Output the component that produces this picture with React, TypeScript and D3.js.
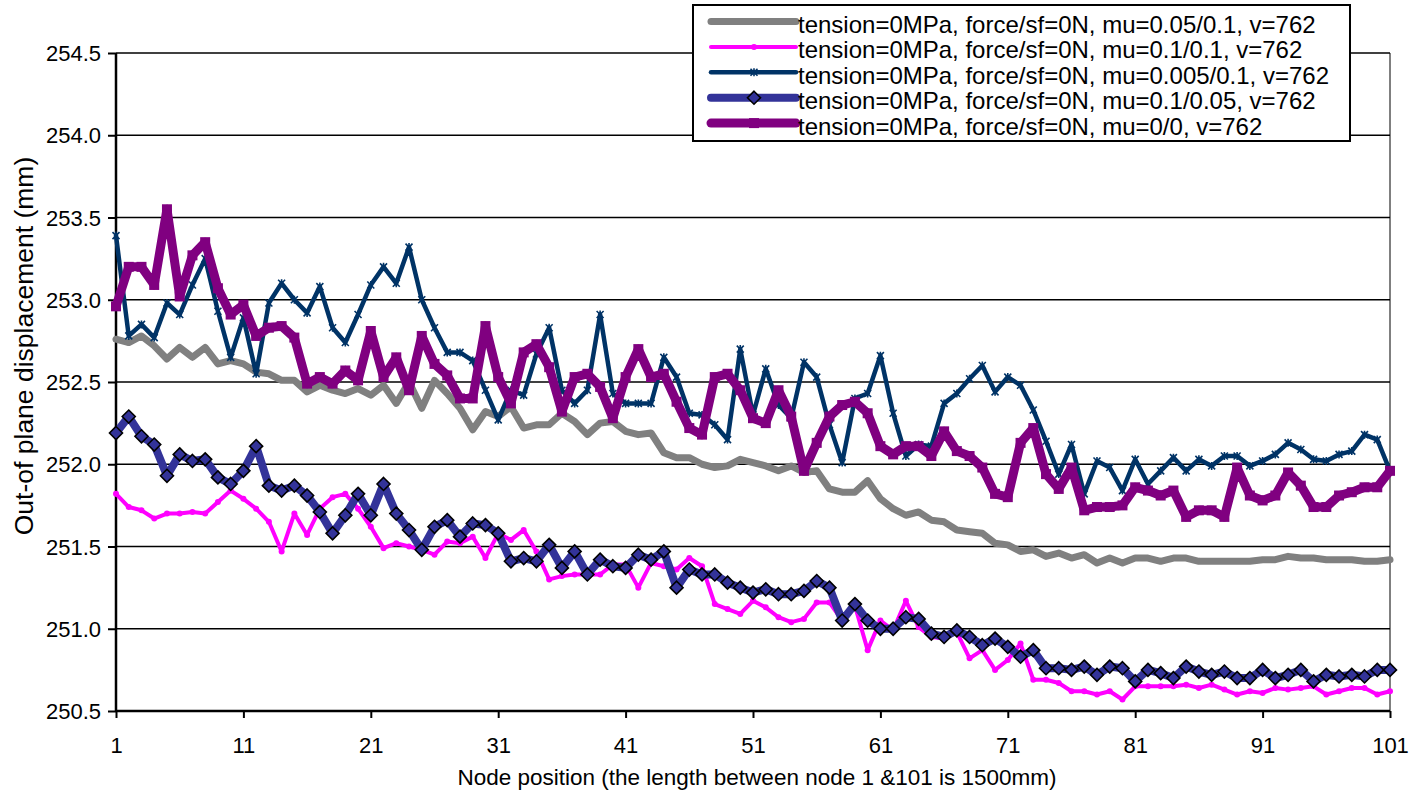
import React, { useRef, useEffect } from "react";
import * as d3 from "d3";

// node numbers along the strip, 1..101
const nodes: number[] = d3.range(1, 102);

const grayVals = [
  252.76, 252.74, 252.78, 252.72, 252.64, 252.71, 252.65, 252.71, 252.61, 252.63,
  252.61, 252.56, 252.55, 252.51, 252.51, 252.44, 252.48, 252.45, 252.43, 252.46,
  252.42, 252.48, 252.37, 252.50, 252.34, 252.51, 252.43, 252.34, 252.21, 252.32,
  252.29, 252.35, 252.22, 252.24, 252.24, 252.31, 252.26, 252.18, 252.25, 252.26,
  252.20, 252.18, 252.19, 252.07, 252.04, 252.04, 252.00, 251.98, 251.99, 252.03,
  252.01, 251.99, 251.96, 251.99, 251.95, 251.96, 251.85, 251.83, 251.83, 251.90,
  251.79, 251.73, 251.69, 251.71, 251.66, 251.65, 251.60, 251.59, 251.58, 251.52,
  251.51, 251.47, 251.48, 251.44, 251.46, 251.43, 251.45, 251.40, 251.43, 251.40,
  251.43, 251.43, 251.41, 251.43, 251.43, 251.41, 251.41, 251.41, 251.41, 251.41,
  251.42, 251.42, 251.44, 251.43, 251.43, 251.42, 251.42, 251.42, 251.41, 251.41,
  251.42,
];

const magentaVals = [
  251.82, 251.74, 251.72, 251.67, 251.70, 251.70, 251.71, 251.70, 251.77, 251.84,
  251.79, 251.73, 251.65, 251.47, 251.70, 251.57, 251.73, 251.80, 251.82, 251.73,
  251.62, 251.49, 251.52, 251.50, 251.48, 251.45, 251.53, 251.52, 251.56, 251.43,
  251.58, 251.54, 251.60, 251.47, 251.30, 251.32, 251.33, 251.33, 251.33, 251.39,
  251.39, 251.25, 251.40, 251.38, 251.36, 251.43, 251.38, 251.15, 251.12, 251.09,
  251.17, 251.13, 251.07, 251.04, 251.06, 251.16, 251.16, 251.05, 251.14, 250.87,
  251.05, 250.99, 251.17, 251.01, 250.95, 250.94, 250.98, 250.82, 250.87, 250.75,
  250.81, 250.91, 250.69, 250.69, 250.67, 250.62, 250.62, 250.60, 250.62, 250.57,
  250.65, 250.65, 250.65, 250.65, 250.66, 250.64, 250.66, 250.63, 250.60, 250.62,
  250.61, 250.64, 250.63, 250.64, 250.65, 250.60, 250.62, 250.64, 250.64, 250.60,
  250.62,
];

const navyVals = [
  253.39, 252.78, 252.85, 252.77, 252.98, 252.91, 253.09, 253.25, 252.93, 252.65,
  252.89, 252.55, 252.98, 253.10, 253.00, 252.92, 253.08, 252.83, 252.74, 252.91,
  253.09, 253.20, 253.10, 253.32, 253.00, 252.83, 252.68, 252.68, 252.63, 252.45,
  252.27, 252.45, 252.42, 252.67, 252.83, 252.45, 252.37, 252.45, 252.91, 252.43,
  252.37, 252.37, 252.37, 252.65, 252.53, 252.31, 252.30, 252.24, 252.15, 252.70,
  252.30, 252.58, 252.36, 252.28, 252.62, 252.53, 252.24, 252.01, 252.40, 252.43,
  252.66, 252.31, 252.05, 252.12, 252.11, 252.37, 252.43, 252.52, 252.60, 252.44,
  252.53, 252.48, 252.33, 252.14, 251.94, 252.12, 251.82, 252.02, 251.98, 251.84,
  252.03, 251.88, 251.96, 252.04, 251.96, 252.03, 251.99, 252.05, 252.05, 251.99,
  252.02, 252.06, 252.13, 252.09, 252.03, 252.02, 252.06, 252.08, 252.18, 252.15,
  251.96,
];

const diamondVals = [
  252.19, 252.29, 252.17, 252.12, 251.93, 252.06, 252.02, 252.03, 251.92, 251.88,
  251.96, 252.11, 251.87, 251.84, 251.87, 251.81, 251.71, 251.58, 251.69, 251.82,
  251.69, 251.88, 251.70, 251.60, 251.48, 251.62, 251.66, 251.56, 251.64, 251.63,
  251.58, 251.41, 251.43, 251.41, 251.51, 251.37, 251.47, 251.33, 251.42, 251.38,
  251.37, 251.45, 251.42, 251.47, 251.25, 251.36, 251.33, 251.33, 251.28, 251.25,
  251.22, 251.24, 251.21, 251.21, 251.23, 251.29, 251.25, 251.05, 251.15, 251.05,
  251.00, 251.00, 251.07, 251.06, 250.97, 250.95, 250.99, 250.95, 250.90, 250.94,
  250.89, 250.83, 250.87, 250.76, 250.76, 250.75, 250.77, 250.72, 250.77, 250.76,
  250.68, 250.75, 250.73, 250.70, 250.77, 250.74, 250.72, 250.74, 250.70, 250.70,
  250.75, 250.70, 250.72, 250.75, 250.68, 250.72, 250.71, 250.72, 250.71, 250.75,
  250.75,
];

const purpleVals = [
  252.96, 253.20, 253.20, 253.09, 253.55, 253.02, 253.27, 253.35, 253.07, 252.91,
  252.97, 252.78, 252.83, 252.84, 252.77, 252.49, 252.53, 252.49, 252.57, 252.51,
  252.81, 252.53, 252.65, 252.45, 252.78, 252.61, 252.54, 252.40, 252.40, 252.84,
  252.53, 252.37, 252.68, 252.73, 252.59, 252.32, 252.53, 252.55, 252.47, 252.28,
  252.53, 252.70, 252.53, 252.55, 252.38, 252.22, 252.18, 252.53, 252.55, 252.45,
  252.28, 252.25, 252.45, 252.29, 251.96, 252.13, 252.29, 252.36, 252.38, 252.31,
  252.11, 252.06, 252.11, 252.11, 252.05, 252.20, 252.08, 252.05, 251.98, 251.82,
  251.80, 252.13, 252.22, 251.94, 251.85, 251.98, 251.72, 251.74, 251.74, 251.75,
  251.86, 251.84, 251.81, 251.84, 251.68, 251.72, 251.72, 251.68, 251.98, 251.81,
  251.78, 251.81, 251.95, 251.87, 251.74, 251.74, 251.81, 251.83, 251.86, 251.86,
  251.96,
];

const seriesNames = [
  "tension=0MPa, force/sf=0N, mu=0.05/0.1, v=762",
  "tension=0MPa, force/sf=0N, mu=0.1/0.1, v=762",
  "tension=0MPa, force/sf=0N, mu=0.005/0.1, v=762",
  "tension=0MPa, force/sf=0N, mu=0.1/0.05, v=762",
  "tension=0MPa, force/sf=0N, mu=0/0, v=762",
];

const xTicks = [1, 11, 21, 31, 41, 51, 61, 71, 81, 91, 101];
const yTicks = [250.5, 251.0, 251.5, 252.0, 252.5, 253.0, 253.5, 254.0, 254.5];

const FONT = "'Liberation Sans', Arial, sans-serif";

type Style = { color: string; width: number; marker: "none" | "dot" | "star" | "diamond" | "square" };
const styles: Style[] = [
  { color: "#808080", width: 7, marker: "none" },
  { color: "#ff00ff", width: 4, marker: "dot" },
  { color: "#003366", width: 4.5, marker: "star" },
  { color: "#333399", width: 8, marker: "diamond" },
  { color: "#800080", width: 9, marker: "square" },
];

const App: React.FC = () => {
  const svgRef = useRef<SVGSVGElement>(null);

  useEffect(() => {
    const svg = d3.select(svgRef.current);
    svg.selectAll("*").remove();

    const width = 1414;
    const height = 796;
    const margin = { top: 53, right: 24, bottom: 85, left: 116 };
    const chartW = width - margin.left - margin.right;
    const chartH = height - margin.top - margin.bottom;

    svg.append("rect").attr("width", width).attr("height", height).attr("fill", "white");

    const g = svg.append("g").attr("transform", `translate(${margin.left},${margin.top})`);

    const x = d3.scaleLinear().domain([1, 101]).range([0, chartW]);
    const y = d3.scaleLinear().domain([250.5, 254.5]).range([chartH, 0]);

    // horizontal grid
    g.append("g")
      .selectAll("line")
      .data(yTicks)
      .enter()
      .append("line")
      .attr("x1", 0)
      .attr("x2", chartW)
      .attr("y1", (d) => y(d))
      .attr("y2", (d) => y(d))
      .attr("stroke", "black")
      .attr("stroke-width", 1.6);

    // right border of plot area
    g.append("line")
      .attr("x1", chartW)
      .attr("x2", chartW)
      .attr("y1", 0)
      .attr("y2", chartH)
      .attr("stroke", "black")
      .attr("stroke-width", 1);

    // y axis
    const yAxis = g
      .append("g")
      .call(d3.axisLeft(y).tickValues(yTicks).tickSize(8).tickFormat(d3.format(".1f")));
    yAxis.select(".domain").attr("stroke", "black").attr("stroke-width", 2.5).attr("d", `M0,${chartH}V0`);
    yAxis.selectAll(".tick line").attr("stroke", "black").attr("stroke-width", 2);
    yAxis
      .selectAll(".tick text")
      .attr("x", -15)
      .attr("dy", "0.35em")
      .attr("font-family", FONT)
      .attr("font-size", 22)
      .attr("fill", "black");

    // x axis
    const xAxis = g
      .append("g")
      .attr("transform", `translate(0,${chartH})`)
      .call(d3.axisBottom(x).tickValues(xTicks).tickSize(7).tickFormat(d3.format("d")));
    xAxis.select(".domain").attr("stroke", "black").attr("stroke-width", 2.5).attr("d", `M0,0H${chartW}`);
    xAxis.selectAll(".tick line").attr("stroke", "black").attr("stroke-width", 2);
    xAxis
      .selectAll(".tick text")
      .attr("y", 26)
      .attr("dy", "0.71em")
      .attr("font-family", FONT)
      .attr("font-size", 22)
      .attr("fill", "black");

    const allSeries = [grayVals, magentaVals, navyVals, diamondVals, purpleVals];

    const line = d3
      .line<number>()
      .x((_, i) => x(nodes[i]))
      .y((d) => y(d));

    const starPath = "M-3.5,-3.5L3.5,3.5M-3.5,3.5L3.5,-3.5M0,-4L0,4";

    const drawMarkers = (sel: d3.Selection<SVGGElement, unknown, null, undefined>, s: Style, pts: [number, number][]) => {
      if (s.marker === "dot") {
        sel.selectAll("circle").data(pts).enter().append("circle")
          .attr("cx", (d) => d[0]).attr("cy", (d) => d[1]).attr("r", 3).attr("fill", s.color);
      } else if (s.marker === "star") {
        sel.selectAll("path").data(pts).enter().append("path")
          .attr("d", starPath)
          .attr("transform", (d) => `translate(${d[0]},${d[1]})`)
          .attr("stroke", s.color).attr("stroke-width", 1.6).attr("fill", "none");
      } else if (s.marker === "diamond") {
        sel.selectAll("path").data(pts).enter().append("path")
          .attr("d", "M0,-6.5L6.5,0L0,6.5L-6.5,0Z")
          .attr("transform", (d) => `translate(${d[0]},${d[1]})`)
          .attr("fill", s.color).attr("stroke", "black").attr("stroke-width", 1.6);
      } else if (s.marker === "square") {
        sel.selectAll("rect").data(pts).enter().append("rect")
          .attr("x", (d) => d[0] - 5).attr("y", (d) => d[1] - 5)
          .attr("width", 10).attr("height", 10).attr("fill", s.color);
      }
    };

    allSeries.forEach((vals, k) => {
      const s = styles[k];
      const sg = g.append("g");
      sg.append("path")
        .datum(vals)
        .attr("d", line)
        .attr("fill", "none")
        .attr("stroke", s.color)
        .attr("stroke-width", s.width)
        .attr("stroke-linejoin", "round")
        .attr("stroke-linecap", "round");
      const pts: [number, number][] = vals.map((v, i) => [x(nodes[i]), y(v)]);
      drawMarkers(sg.append("g"), s, pts);
    });

    // axis titles
    svg.append("text")
      .attr("x", 757)
      .attr("y", 785)
      .attr("text-anchor", "middle")
      .attr("font-family", FONT)
      .attr("font-size", 22.5)
      .attr("fill", "black")
      .text("Node position (the length between node 1 &101 is 1500mm)");

    svg.append("text")
      .attr("transform", "translate(33,346) rotate(-90)")
      .attr("text-anchor", "middle")
      .attr("font-family", FONT)
      .attr("font-size", 26.5)
      .attr("fill", "black")
      .text("Out-of plane displacement (mm)");

    // legend
    const lg = svg.append("g");
    lg.append("rect")
      .attr("x", 693).attr("y", 5).attr("width", 657).attr("height", 136)
      .attr("fill", "white").attr("stroke", "black").attr("stroke-width", 2);

    seriesNames.forEach((name, k) => {
      const s = styles[k];
      const cy = 21.5 + k * 25.4;
      const row = lg.append("g");
      row.append("line")
        .attr("x1", 711).attr("x2", 796).attr("y1", cy).attr("y2", cy)
        .attr("stroke", s.color).attr("stroke-width", s.width).attr("stroke-linecap", "round");
      drawMarkers(row.append("g"), s, [[754, cy]]);
      row.append("text")
        .attr("x", 798)
        .attr("y", cy + 11.5)
        .attr("font-family", FONT)
        .attr("font-size", 24)
        .attr("fill", "black")
        .text(name);
    });
  }, []);

  return (
    <svg
      ref={svgRef}
      width={1414}
      height={796}
      style={{ position: "absolute", left: 0, top: 0, display: "block" }}
    />
  );
};

export default App;
